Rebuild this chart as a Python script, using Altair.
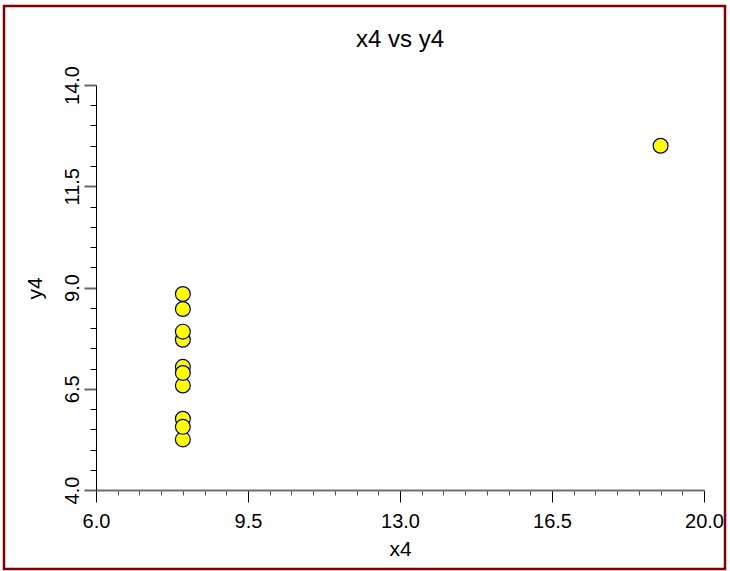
import altair as alt
import pandas as pd

# Anscombe's quartet, set IV
x4 = [8, 8, 8, 8, 8, 8, 8, 19, 8, 8, 8]
y4 = [6.58, 5.76, 7.71, 8.84, 8.47, 7.04, 5.25, 12.50, 5.56, 7.91, 6.89]

x_domain = [6.0, 20.0]
y_domain = [4.0, 14.0]
x_major = [6.0, 9.5, 13.0, 16.5, 20.0]
y_major = [4.0, 6.5, 9.0, 11.5, 14.0]
minor_step = 0.5

x_ticks = [x_domain[0] + minor_step * i for i in range(int((x_domain[1] - x_domain[0]) / minor_step) + 1)]
y_ticks = [y_domain[0] + minor_step * i for i in range(int((y_domain[1] - y_domain[0]) / minor_step) + 1)]

df = pd.DataFrame({"x4": x4, "y4": y4})

FONT = "Liberation Sans"
W, H = 608, 405
PAD = {"left": 96, "top": 85, "right": 26, "bottom": 81}
FRAME = {"left": 4, "right": 725, "top": 6, "bottom": 569, "width": 2.5}


def is_major(values):
    return f"indexof({list(values)}, datum.value) >= 0"


x_test = is_major(x_major)
y_test = is_major(y_major)

x_axis = alt.Axis(
    values=x_ticks,
    labelExpr=f"{x_test} ? format(datum.value, '.1f') : ''",
    labelOverlap=False,
    labelFlush=False,
    labelFont=FONT,
    labelFontSize=20,
    labelColor="#000000",
    labelBaseline="alphabetic",
    labelPadding=25,
    tickSize={"condition": {"test": x_test, "value": 12}, "value": 5},
    tickColor={"condition": {"test": x_test, "value": "#000000"}, "value": "#555555"},
    tickWidth=1,
    domainColor="#707070",
    domainWidth=2,
    grid=False,
    title="x4",
    titleFont=FONT,
    titleFontSize=21,
    titleFontWeight="normal",
    titleColor="#000000",
    titleAlign="center",
    titleBaseline="alphabetic",
    titleAngle=0,
    titleX=304,
    titleY=65,
)

y_axis = alt.Axis(
    values=y_ticks,
    labelExpr=f"{y_test} ? format(datum.value, '.1f') : ''",
    labelOverlap=False,
    labelFlush=False,
    labelFont=FONT,
    labelFontSize=20,
    labelColor="#000000",
    labelAngle=270,
    labelAlign="center",
    labelBaseline="alphabetic",
    labelPadding=6,
    tickSize={"condition": {"test": y_test, "value": 12}, "value": 6},
    tickColor={"condition": {"test": y_test, "value": "#666666"}, "value": "#000000"},
    tickWidth={"condition": {"test": y_test, "value": 2}, "value": 1},
    domainColor="#000000",
    domainWidth=1,
    grid=False,
    title="y4",
    titleFont=FONT,
    titleFontSize=21,
    titleFontWeight="normal",
    titleColor="#000000",
    titleAlign="center",
    titleBaseline="alphabetic",
    titleAngle=270,
    titleX=-55,
    titleY=203,
)

points = alt.Chart(df).mark_circle(
    size=220, color="#FFFF00", opacity=1, stroke="#000080", strokeWidth=1.2
).encode(
    x=alt.X("x4:Q", scale=alt.Scale(domain=x_domain, nice=False, zero=False), axis=x_axis),
    y=alt.Y("y4:Q", scale=alt.Scale(domain=y_domain, nice=False, zero=False), axis=y_axis),
)

# dark red frame around the whole figure
frame = alt.Chart(alt.Data(values=[{}])).mark_rect(
    fill="transparent", stroke="#800000", strokeWidth=FRAME["width"]
).encode(
    x=alt.value(FRAME["left"] - PAD["left"]),
    x2=alt.value(FRAME["right"] - PAD["left"]),
    y=alt.value(FRAME["top"] - PAD["top"]),
    y2=alt.value(FRAME["bottom"] - PAD["top"]),
)

chart = alt.layer(points, frame).properties(
    width=W,
    height=H,
    padding=PAD,
    autosize=alt.AutoSizeParams(type="none"),
    background="#FFFFFF",
    title=alt.TitleParams(
        "x4 vs y4",
        font=FONT,
        fontSize=24,
        fontWeight="normal",
        color="#000000",
        anchor="middle",
        baseline="alphabetic",
        offset=0,
        # the title is laid out above the frame's bounds; push it back down
        dy=66,
    ),
).configure_view(stroke="transparent")

chart.save("out.html", embed_options={"renderer": "svg", "actions": False})
